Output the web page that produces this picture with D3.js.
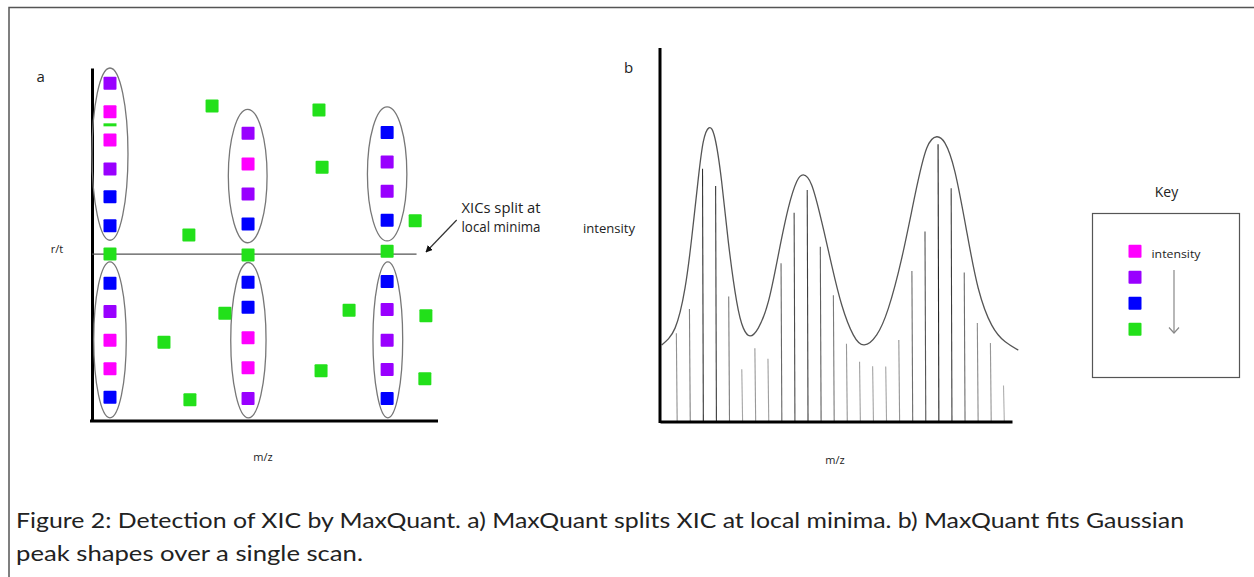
<!DOCTYPE html>
<html>
<head>
<meta charset="utf-8">
<script src="https://cdn.jsdelivr.net/npm/d3@7"></script>
<style>
  html,body{margin:0;padding:0;background:#fff;}
  svg{display:block;}
</style>
</head>
<body>
<svg id="chart" width="1254" height="577"></svg>
<script>
// ---------- DATA ----------
// Panel a: XIC points (m/z, r/t, intensity class)
const colorClasses = ["magenta", "purple", "blue", "green"];
const col1Points = [
  [5.2,95.7,"purple"],[5.2,87.6,"magenta"],[5.2,79.6,"magenta"],[5.2,71.4,"purple"],
  [5.2,63.5,"blue"],[5.2,55.3,"blue"],[5.2,47.3,"green"],[5.2,39.0,"blue"],
  [5.2,31.0,"purple"],[5.2,22.9,"magenta"],[5.2,14.8,"magenta"],[5.2,6.7,"blue"]
];
const col1Dash = [[5.2,83.9,"green"]];
const col2Points = [
  [45.1,81.5,"purple"],[45.1,72.8,"magenta"],[45.1,64.3,"purple"],[45.1,55.8,"blue"],
  [45.1,47.0,"green"],[45.1,39.3,"blue"],[45.1,32.2,"blue"],[45.1,23.6,"magenta"],
  [45.1,15.1,"magenta"],[45.1,6.4,"purple"]
];
const col3Points = [
  [85.3,81.7,"blue"],[85.3,73.4,"purple"],[85.3,65.1,"purple"],[85.3,56.9,"blue"],
  [85.3,48.1,"green"],[85.3,39.5,"blue"],[85.3,31.6,"purple"],[85.3,22.9,"purple"],
  [85.3,14.6,"purple"],[85.3,6.4,"blue"]
];
const scatterGreen = [
  [34.7,89.2],[28.0,52.7],[38.4,30.5],[20.8,22.3],[28.3,6.0],[65.6,88.1],
  [66.5,71.9],[93.4,56.7],[74.3,31.4],[96.5,29.8],[66.2,14.2],[96.2,12.0]
];
// XIC groupings (cx, cy, rx, ry) in data units
const xicEllipses = [
  [5.2,75.6,5.2,24.4],[5.2,23.0,4.7,22.1],
  [45.0,69.4,5.6,18.9],[45.2,22.9,5.1,22.0],
  [85.3,70.0,5.7,19.0],[85.5,23.0,4.3,22.1]
];
const splitLevel = 47.3;     // r/t of local minimum split
const splitEnd = 93.8;       // m/z where split line ends

// Panel b: centroid sticks (m/z index, intensity)
const stickMz = d3.range(1, 27);
const stickIntensity = [23.5,30.0,67.6,63.0,33.4,13.9,19.5,16.7,42.3,55.8,61.9,46.7,33.7,
  20.7,15.9,14.7,14.6,21.7,40.2,50.8,74.2,62.4,39.8,26.3,20.9,9.5];
// Fitted peak envelope
const fitMz = [-0.12,0.90,1.66,2.17,2.68,3.06,3.49,3.95,4.46,4.97,5.61,6.12,6.63,7.26,8.03,
  8.79,9.55,10.20,10.70,11.34,12.11,12.87,13.64,14.52,15.36,16.31,17.20,18.22,19.24,20.13,
  20.90,21.53,22.29,23.19,24.07,25.10,26.11,27.13];
const fitIntensity = [20.4,24.9,35.6,49.0,65.1,74.9,78.6,75.8,64.2,48.1,32.0,24.9,22.8,24.9,
  32.0,44.5,57.0,64.2,66.0,63.3,53.4,41.8,31.1,23.1,20.4,23.1,30.2,43.6,60.6,73.1,76.2,74.5,
  66.8,50.8,35.6,25.7,21.3,19.0];

const keyLabels = ["intensity"];
const captionLines = [
  "Figure 2: Detection of XIC by MaxQuant. a) MaxQuant splits XIC at local minima. b) MaxQuant fits Gaussian",
  "peak shapes over a single scan."
];

// ---------- DRAW ----------
const svg = d3.select("#chart");
const colorOf = d3.scaleOrdinal().domain(colorClasses)
  .range(["#ff00ff", "#9900ff", "#0000ff", "#22e01a"]);
const SQ = 13;

// outer frame
svg.append("path").attr("d", "M9,577V7.5H1254")
  .attr("fill", "none").attr("stroke", "#555").attr("stroke-width", 1.5);

// ---- Panel a ----
const xa = d3.scaleLinear().domain([0, 100]).range([92, 438]);
const ya = d3.scaleLinear().domain([0, 100]).range([421, 68]);
const ga = svg.append("g");

ga.append("g").attr("transform", "translate(0,421)")
  .call(d3.axisBottom(xa).ticks(0).tickSizeOuter(0))
  .call(g => g.select(".domain").attr("stroke", "#000").attr("stroke-width", 3)
    .attr("d", `M${xa(0)-2},0H${xa(100)}`));
ga.append("g").attr("transform", "translate(92,0)")
  .call(d3.axisLeft(ya).ticks(0).tickSizeOuter(0))
  .call(g => g.select(".domain").attr("stroke", "#000").attr("stroke-width", 3));

// split line
ga.append("line").attr("x1", xa(0)).attr("x2", xa(splitEnd))
  .attr("y1", ya(splitLevel)).attr("y2", ya(splitLevel))
  .attr("stroke", "#555").attr("stroke-width", 1.3);

// ellipses
ga.selectAll("ellipse.xic").data(xicEllipses).join("ellipse")
  .attr("cx", d => xa(d[0])).attr("cy", d => ya(d[1]))
  .attr("rx", d => xa(d[2]) - xa(0)).attr("ry", d => ya(0) - ya(d[3]))
  .attr("fill", "none").attr("stroke", "#777").attr("stroke-width", 1.3);

const allSquares = col1Points.concat(col2Points, col3Points, scatterGreen.map(d => [d[0], d[1], "green"]));
ga.selectAll("rect.pt").data(allSquares).join("rect")
  .attr("x", d => xa(d[0]) - SQ/2).attr("y", d => ya(d[1]) - SQ/2)
  .attr("width", SQ).attr("height", SQ).attr("rx", 1)
  .attr("fill", d => colorOf(d[2]));
ga.selectAll("rect.dash").data(col1Dash).join("rect")
  .attr("x", d => xa(d[0]) - SQ/2).attr("y", d => ya(d[1]) - 1.5)
  .attr("width", SQ).attr("height", 3)
  .attr("fill", d => colorOf(d[2]));

// annotation arrow
const defs = svg.append("defs");
defs.append("marker").attr("id", "ah").attr("viewBox", "0 0 10 10")
  .attr("refX", 9).attr("refY", 5).attr("markerWidth", 7).attr("markerHeight", 7)
  .attr("orient", "auto-start-reverse").attr("markerUnits", "userSpaceOnUse")
  .append("path").attr("d", "M0,0L10,5L0,10z").attr("fill", "#111");
ga.append("line").attr("x1", 456.7).attr("y1", 220).attr("x2", 426).attr("y2", 252)
  .attr("stroke", "#333").attr("stroke-width", 1.2).attr("marker-end", "url(#ah)");

const lab = (x, y, t, size, anchor, len) => {
  const el = svg.append("text").attr("x", x).attr("y", y).text(t)
    .attr("font-family", "'Open Sans', sans-serif").attr("font-size", size)
    .attr("fill", "#222").attr("text-anchor", anchor || "start");
  if (len) el.attr("textLength", len).attr("lengthAdjust", "spacingAndGlyphs");
  return el;
};
lab(36.5, 81.5, "a", 15);
lab(57, 253, "r/t", 11, "middle");
lab(263, 461, "m/z", 11, "middle");
lab(461.5, 213, "XICs split at", 14, "start", 79);
lab(461.5, 231.5, "local minima", 14, "start", 79);

// ---- Panel b ----
const xb = d3.scaleLinear().domain([-0.25, 26.65]).range([660, 1012]);
const yb = d3.scaleLinear().domain([0, 100]).range([421, 48]);
const gb = svg.append("g");
const shade = d3.scaleLinear().domain([9, 75]).range(["#b0b0b0", "#222"]);

gb.selectAll("line.stick").data(stickMz).join("line")
  .attr("x1", d => xb(d)).attr("x2", d => xb(d) + 0.8)
  .attr("y1", (d, i) => yb(stickIntensity[i])).attr("y2", yb(0))
  .attr("stroke", (d, i) => shade(stickIntensity[i])).attr("stroke-width", 1.1);

const fitLine = d3.line().x(d => xb(d[0])).y(d => yb(d[1])).curve(d3.curveNatural);
gb.append("path").datum(fitMz.map((m, i) => [m, fitIntensity[i]]))
  .attr("d", fitLine).attr("fill", "none").attr("stroke", "#555").attr("stroke-width", 1.3);

gb.append("g").attr("transform", "translate(0,421.5)")
  .call(d3.axisBottom(xb).ticks(0).tickSizeOuter(0))
  .call(g => g.select(".domain").attr("stroke", "#000").attr("stroke-width", 3));
gb.append("g").attr("transform", "translate(660,0)")
  .call(d3.axisLeft(yb).ticks(0).tickSizeOuter(0))
  .call(g => g.select(".domain").attr("stroke", "#000").attr("stroke-width", 3)
    .attr("d", `M0,${yb(100)}V${yb(0)+2}`));

lab(624, 73, "b", 15);
lab(583, 233, "intensity", 12, "start", 52);
lab(835, 464, "m/z", 11, "middle");

// ---- Key ----
lab(1166.5, 197, "Key", 14, "middle");
svg.append("rect").attr("x", 1092.5).attr("y", 213.5).attr("width", 147).attr("height", 164)
  .attr("fill", "none").attr("stroke", "#555").attr("stroke-width", 1.2);
const keyY = d3.scalePoint().domain(colorClasses).range([251.3, 329.3]);
svg.selectAll("rect.key").data(colorClasses).join("rect")
  .attr("x", 1135 - SQ/2).attr("y", d => keyY(d) - SQ/2)
  .attr("width", SQ).attr("height", SQ).attr("rx", 1).attr("fill", d => colorOf(d));
lab(1151.5, 258, keyLabels[0], 11, "start", 49);
svg.append("line").attr("x1", 1174).attr("x2", 1174).attr("y1", 270).attr("y2", 333)
  .attr("stroke", "#888").attr("stroke-width", 1.2);
svg.append("path").attr("d", "M1169,327.5L1174,333L1179,327.5")
  .attr("fill", "none").attr("stroke", "#888").attr("stroke-width", 1.2);

// ---- Caption ----
svg.selectAll("text.cap").data(captionLines).join("text")
  .attr("x", 16).attr("y", (d, i) => 528 + i * 33)
  .attr("font-family", "Lato, 'Open Sans', sans-serif").attr("font-size", 21)
  .attr("fill", "#222")
  .attr("textLength", (d, i) => i === 0 ? 1168 : 347)
  .attr("lengthAdjust", "spacingAndGlyphs")
  .text(d => d);
</script>
</body>
</html>
